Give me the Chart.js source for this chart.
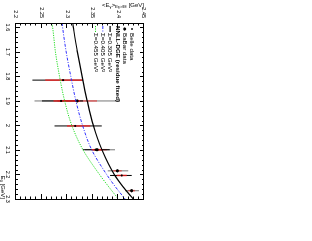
<!DOCTYPE html>
<html>
<head>
<meta charset="utf-8">
<script src="https://cdn.jsdelivr.net/npm/chart.js@4.4.1/dist/chart.umd.min.js"></script>
<style>
html, body { margin: 0; padding: 0; background: #fff; overflow: hidden; }
/* la figura original está girada 90° en la página */
#girado { position: absolute; left: 0; top: 0; width: 241px; height: 312px;
          transform-origin: 0 0; transform: translate(312px, 0) rotate(90deg); }
</style>
</head>
<body>
<div id="girado"><canvas id="graficoMomento" width="241" height="312"></canvas></div>
<script>
// Ejes
const ticksE0 = [1.6, 1.7, 1.8, 1.9, 2.0, 2.1, 2.2, 2.3];
const ticksEg = [2.2, 2.25, 2.3, 2.35, 2.4, 2.45];

// Curvas NNLL-DGE
const curvaE0  = [1.582, 1.6, 1.7, 1.8, 1.9, 2.0, 2.1, 2.2, 2.25, 2.3];
const sigma305 = [2.311, 2.312, 2.320, 2.329, 2.339, 2.351, 2.368, 2.392, 2.409, 2.429];
const sigma405 = [2.290, 2.291, 2.298, 2.307, 2.317, 2.330, 2.348, 2.377, 2.394, 2.413];
const sigma455 = [2.270, 2.2715, 2.277, 2.285, 2.295, 2.309, 2.331, 2.363, 2.381, 2.400];

// Belle
const belleE0     = [1.815, 1.900, 2.002, 2.099, 2.204];
const belleMedia  = [2.292, 2.288, 2.3155, 2.3555, 2.4065];
const belleTotMin = [2.232, 2.2507, 2.2752, 2.3305, 2.3837];
const belleTotMax = [2.331, 2.331, 2.3675, 2.383, 2.426];
const belleEstMin = [2.257, 2.273, 2.2994, 2.348, 2.3968];
const belleEstMax = [2.329, 2.325, 2.3448, 2.368, 2.4163];

// BaBar
const babarE0     = [1.900, 2.099, 2.185, 2.266];
const babarMedia  = [2.3194, 2.3584, 2.398, 2.426];
const babarTotMin = [2.236, 2.335, 2.3792, 2.413];
const babarTotMax = [2.4033, 2.3935, 2.4194, 2.440];
const babarEstMin = [2.281, 2.350, 2.390, 2.4194];
const babarEstMax = [2.3584, 2.3773, 2.4065, 2.4324];

const fuente = '"Liberation Sans", Arial, sans-serif';
const puntos = (xs, ys) => xs.map((x, i) => ({ x: x, y: ys[i] }));

// Barras de error (total en negro, estadística en rojo)
const barrasError = {
    id: 'barrasError',
    beforeDatasetsDraw(chart) {
        const { ctx, scales: { x, y } } = chart;
        const linea = (e0, lo, hi, color, grosor) => {
            ctx.strokeStyle = color;
            ctx.lineWidth = grosor;
            e0.forEach((v, i) => {
                const px = x.getPixelForValue(v);
                ctx.beginPath();
                ctx.moveTo(px, y.getPixelForValue(lo[i]));
                ctx.lineTo(px, y.getPixelForValue(hi[i]));
                ctx.stroke();
            });
        };
        ctx.save();
        linea(babarE0, babarTotMin, babarTotMax, 'rgba(0,0,0,0.45)', 1.2);
        linea(babarE0, babarEstMin, babarEstMax, 'rgba(255,0,0,0.45)', 1.6);
        linea(belleE0, belleTotMin, belleTotMax, '#000', 1);
        linea(belleE0, belleEstMin, belleEstMax, 'rgba(255,30,30,0.8)', 1.5);
        ctx.restore();
    }
};

// Marco con marcas hacia dentro en los cuatro lados (estilo ROOT)
const marco = {
    id: 'marco',
    afterDatasetsDraw(chart) {
        const { ctx, chartArea: a, scales: { x, y } } = chart;
        ctx.save();
        ctx.strokeStyle = '#000';
        ctx.lineWidth = 1;
        ctx.strokeRect(Math.round(a.left) + 0.5, Math.round(a.top) + 0.5,
                       Math.round(a.right - a.left), Math.round(a.bottom - a.top));
        ctx.beginPath();
        for (let k = 80; k <= 115; k++) {
            const px = Math.round(x.getPixelForValue(k / 50)) + 0.5;
            const l = k % 5 === 0 ? 4 : 2;
            ctx.moveTo(px, a.bottom); ctx.lineTo(px, a.bottom - l);
            ctx.moveTo(px, a.top); ctx.lineTo(px, a.top + l);
        }
        for (let k = 220; k <= 245; k++) {
            const py = Math.round(y.getPixelForValue(k / 100)) + 0.5;
            const l = k % 5 === 0 ? 5 : 2.5;
            ctx.moveTo(a.left, py); ctx.lineTo(a.left + l, py);
            ctx.moveTo(a.right, py); ctx.lineTo(a.right - l, py);
        }
        ctx.stroke();
        ctx.restore();
    }
};

// texto con subíndices: partes = [texto, escala, desplazamiento]
function textoRico(ctx, partes, x, y, tam) {
    let ancho = 0;
    partes.forEach(p => { ctx.font = (tam * p[1]) + 'px ' + fuente; ancho += ctx.measureText(p[0]).width; });
    let cx = x - ancho;
    partes.forEach(p => {
        ctx.font = (tam * p[1]) + 'px ' + fuente;
        ctx.fillText(p[0], cx, y + p[2]);
        cx += ctx.measureText(p[0]).width;
    });
}

const titulosYLeyenda = {
    id: 'titulosYLeyenda',
    afterDraw(chart) {
        const { ctx, chartArea: a } = chart;
        ctx.save();
        ctx.fillStyle = '#000';
        ctx.textBaseline = 'middle';
        // título eje x
        textoRico(ctx, [['E', 1, 0], ['0', 0.7, 1.5], [' [GeV]', 1, 0]], a.right, 309, 6);
        // título eje y
        ctx.save();
        ctx.translate(5, a.top);
        ctx.rotate(-Math.PI / 2);
        textoRico(ctx, [['<E', 1, 0], ['γ', 0.7, 1.5], ['>', 1, 0], ['Eγ>E', 0.7, 1.5], ['0', 0.5, 2.2], [' [GeV]', 1, 0]], 0, 0, 6);
        ctx.restore();

        // leyenda
        const x0 = a.left + 3, xt = a.left + 10, paso = 7.3;
        let yy = a.top + 12;
        const f = 6.2;
        ctx.font = f + 'px ' + fuente;
        ctx.fillStyle = '#000';
        ctx.beginPath(); ctx.arc(x0 + 3, yy, 0.9, 0, 2 * Math.PI); ctx.fill();
        ctx.fillText('Belle data', xt, yy);
        yy += paso;
        ctx.beginPath(); ctx.arc(x0 + 3, yy, 1.5, 0, 2 * Math.PI); ctx.fill();
        ctx.fillText('BaBar data', xt, yy);
        yy += paso;
        ctx.font = 'bold ' + f + 'px ' + fuente;
        ctx.fillText('NNLL-DGE (residue fixed)', xt - 7, yy);
        ctx.font = f + 'px ' + fuente;
        const curvas = [
            ['Σ=0.305 GeV²', '#000', [], 1.2],
            ['Σ=0.405 GeV²', '#3030ff', [3, 1.5, 1, 1.5], 1],
            ['Σ=0.455 GeV²', '#20dd20', [1.2, 1.2], 1]
        ];
        curvas.forEach(c => {
            yy += paso;
            ctx.strokeStyle = c[1]; ctx.setLineDash(c[2]); ctx.lineWidth = c[3];
            ctx.beginPath(); ctx.moveTo(x0, yy); ctx.lineTo(x0 + 6, yy); ctx.stroke();
            ctx.setLineDash([]);
            ctx.fillText(c[0], xt, yy);
        });
        ctx.restore();
    }
};

const ctx = document.getElementById('graficoMomento').getContext('2d');
const chart = new Chart(ctx, {
    type: 'scatter',
    data: {
        datasets: [
            { label: 'Σ=0.305 GeV²', type: 'line', data: puntos(curvaE0, sigma305),
              borderColor: '#000', borderWidth: 1.2, pointRadius: 0, cubicInterpolationMode: 'monotone' },
            { label: 'Σ=0.405 GeV²', type: 'line', data: puntos(curvaE0, sigma405),
              borderColor: '#3030ff', borderWidth: 1, borderDash: [3, 1.5, 1, 1.5], pointRadius: 0, cubicInterpolationMode: 'monotone' },
            { label: 'Σ=0.455 GeV²', type: 'line', data: puntos(curvaE0, sigma455),
              borderColor: '#20dd20', borderWidth: 1, borderDash: [1.2, 1.2], pointRadius: 0, cubicInterpolationMode: 'monotone' },
            { label: 'Belle data', data: puntos(belleE0, belleMedia),
              pointRadius: 1.1, pointBackgroundColor: '#000', pointBorderWidth: 0 },
            { label: 'BaBar data', data: puntos(babarE0, babarMedia),
              pointRadius: 1.6, pointBackgroundColor: '#000', pointBorderWidth: 0 }
        ]
    },
    options: {
        responsive: false,
        animation: false,
        events: [],
        layout: { padding: { top: 168, right: 42, left: 0, bottom: 0 } },
        plugins: { legend: { display: false }, tooltip: { enabled: false } },
        scales: {
            x: {
                type: 'linear', min: 1.582, max: 2.3,
                grid: { display: false, drawTicks: false }, border: { display: false },
                afterBuildTicks: s => { s.ticks = ticksE0.map(v => ({ value: v })); },
                afterFit: s => { s.height = 16; },
                ticks: { padding: 5, color: '#000', maxRotation: 0, autoSkip: false,
                         font: { family: fuente, size: 5.5 },
                         callback: v => String(+v.toFixed(1)) }
            },
            y: {
                type: 'linear', min: 2.2, max: 2.45,
                grid: { display: false, drawTicks: false }, border: { display: false },
                afterBuildTicks: s => { s.ticks = ticksEg.map(v => ({ value: v })); },
                afterFit: s => { s.width = 23; },
                ticks: { padding: 5, color: '#000', autoSkip: false,
                         font: { family: fuente, size: 5.5 },
                         callback: v => String(+v.toFixed(2)) }
            }
        }
    },
    plugins: [barrasError, marco, titulosYLeyenda]
});
</script>
</body>
</html>
